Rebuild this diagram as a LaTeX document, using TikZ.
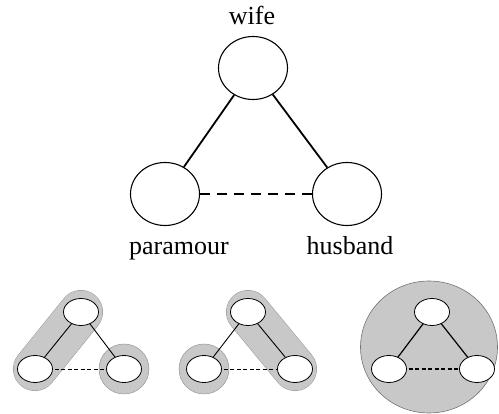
\documentclass[tikz,border=0pt]{standalone}
\usepackage{fontspec}
\setmainfont{Liberation Serif}
\usetikzlibrary{shapes.geometric}
\definecolor{blobgray}{RGB}{200,200,200}
\definecolor{blobrim}{RGB}{150,150,150}

\begin{document}
\begin{tikzpicture}[x=1pt, y=-1pt,
  person/.style={ellipse, draw, fill=white, inner sep=0pt},
  big/.style={person, line width=1.1pt, minimum width=69pt, minimum height=63pt},
  small/.style={person, line width=0.8pt, minimum width=35pt, minimum height=27pt},
  word/.style={font=\fontsize{26}{30}\selectfont, inner sep=0pt},
  tie/.style={line width=#1},
  rival/.style={line width=#1, dash pattern=on 4pt off 2.5pt},
  group/.style={line cap=round, line width=44pt}]
  \useasboundingbox (0,0) rectangle (499,414);
  % top triangle
  \node[big] (wife) at (253,68) {};
  \node[big] (paramour) at (165,194) {};
  \node[big] (husband) at (347,194) {};
  \node[word, anchor=base] (wifelab) at (252,25) {wife};
  \node[word, anchor=base] (paramourlab) at (179,255) {paramour};
  \node[word, anchor=base] (husbandlab) at (350,255) {husband};
  \draw[tie=1.8pt] (wife) -- (paramour);
  \draw[tie=1.8pt] (wife) -- (husband);
  \draw[line width=1.8pt, dash pattern=on 10pt off 7pt] (paramour) -- (husband);
  % panel 1: wife+paramour vs husband
  \coordinate (w1) at (81,312);
  \coordinate (p1) at (35,369);
  \coordinate (h1) at (124,369);
  \draw[group, draw=blobrim] (w1) -- (p1);
  \draw[group, draw=blobgray, line width=43pt] (w1) -- (p1);
  \draw[fill=blobgray, draw=blobrim, line width=0.5pt] (h1) circle (25pt);
  \draw[tie=0.9pt] (w1) -- (p1);
  \draw[tie=0.9pt] (w1) -- (h1);
  \draw[rival=0.9pt] (p1) -- (h1);
  \node[small] (a-w) at (w1) {};
  \node[small] (a-p) at (p1) {};
  \node[small] (a-h) at (h1) {};
  % panel 2: wife+husband vs paramour
  \coordinate (w2) at (248,312);
  \coordinate (p2) at (204,369);
  \coordinate (h2) at (295,369);
  \draw[group, draw=blobrim] (w2) -- (h2);
  \draw[group, draw=blobgray, line width=43pt] (w2) -- (h2);
  \draw[fill=blobgray, draw=blobrim, line width=0.5pt] (p2) circle (25pt);
  \draw[tie=0.9pt] (w2) -- (p2);
  \draw[tie=0.9pt] (w2) -- (h2);
  \draw[rival=0.9pt] (p2) -- (h2);
  \node[small] (b-w) at (w2) {};
  \node[small] (b-p) at (p2) {};
  \node[small] (b-h) at (h2) {};
  % panel 3: all three together
  \coordinate (w3) at (432,312);
  \coordinate (p3) at (389,369);
  \coordinate (h3) at (477,369);
  \draw[fill=blobgray, draw=black!55, line width=0.6pt] (429,347) ellipse (68.5pt and 66pt);
  \draw[tie=1.2pt] (w3) -- (p3);
  \draw[tie=1.2pt] (w3) -- (h3);
  \draw[rival=1.2pt] (p3) -- (h3);
  \node[small] (c-w) at (w3) {};
  \node[small] (c-p) at (p3) {};
  \node[small] (c-h) at (h3) {};
\end{tikzpicture}
\end{document}
